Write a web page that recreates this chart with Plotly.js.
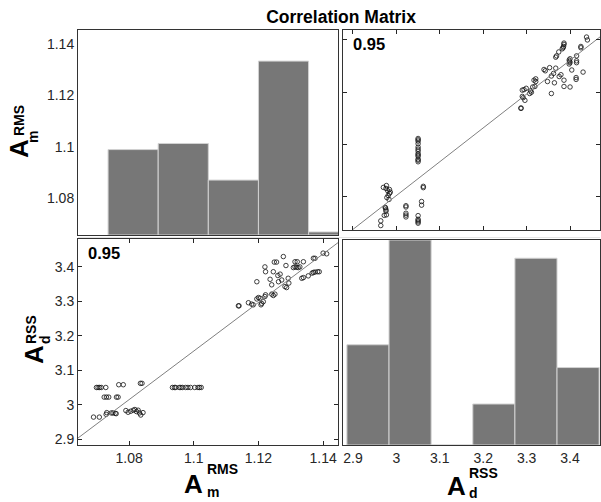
<!DOCTYPE html>
<html><head><meta charset="utf-8">
<script src="https://cdn.plot.ly/plotly-3.0.1.min.js"></script>
<style>html,body{margin:0;padding:0;background:#fff}#chart{width:601px;height:502px}</style>
</head><body><div id="chart"></div>
<script>
// ---- data ----
const amRMS = [
  1.0699,1.0704,1.0709,1.0714,1.0728,
  1.0768,1.0782,1.0835,1.0840,
  1.0934,1.0940,1.0944,1.0955,1.0960,1.0965,1.0975,1.0982,1.0990,1.1003,1.1013,1.1018,1.1023,
  1.0723,1.0730,1.0737,1.0761,1.0766,
  1.0690,1.0708,1.0729,1.0731,1.0745,1.0750,1.0757,1.0760,
  1.0790,1.0797,1.0805,1.0813,1.0818,1.0823,1.0828,1.0832,1.0836,1.0843,
  1.1138,1.1140,1.1169,1.1179,1.1184,1.1195,1.1200,1.1205,
  1.1208,1.1210,1.1215,1.1220,1.1222,1.1241,1.1246,1.1251,
  1.1195,1.1220,1.1222,1.1236,1.1241,1.1249,1.1256,1.1246,
  1.1260,1.1267,1.1262,1.1272,1.1277,1.1285,1.1292,1.1282,1.1287,1.1294,
  1.1308,1.1313,1.1318,1.1323,1.1328,1.1313,1.1320,1.1339,
  1.1334,1.1339,1.1354,1.1366,1.1370,1.1375,1.1383,1.1388,
  1.1370,1.1375,1.1400,1.1411
];
const adRSS = [
  3.050,3.050,3.050,3.050,3.050,
  3.058,3.058,3.062,3.062,
  3.050,3.050,3.050,3.050,3.050,3.050,3.050,3.050,3.050,3.050,3.050,3.050,3.050,
  3.022,3.022,3.022,3.022,3.022,
  2.964,2.964,2.972,2.977,2.976,2.976,2.975,2.974,
  2.983,2.978,2.981,2.984,2.986,2.980,2.984,2.976,2.970,2.977,
  3.287,3.287,3.296,3.292,3.290,3.307,3.311,3.309,
  3.290,3.294,3.299,3.314,3.319,3.321,3.317,3.321,
  3.357,3.400,3.386,3.364,3.348,3.414,3.414,3.386,
  3.375,3.379,3.357,3.362,3.430,3.404,3.367,3.343,3.340,3.353,
  3.398,3.400,3.399,3.398,3.400,3.415,3.415,3.415,
  3.367,3.369,3.374,3.382,3.384,3.385,3.386,3.386,
  3.425,3.425,3.440,3.438
];
const amHistEdges = [1.0735,1.0890,1.1045,1.1200,1.1355,1.1510];
const amHistCounts = [28,30,18,57,1];
const adHistEdges = [2.886,2.983,3.080,3.176,3.273,3.370,3.467];
const adHistCounts = [22,45,0,9,41,17];
const titleText = 'Correlation Matrix';
const corrLabel = '0.95';

// ---- helpers ----
const W = 601, H = 502;
const px = v => v / W, py = v => 1 - v / H;
function fit(x, y) {
  const n = x.length;
  const mx = x.reduce((a, b) => a + b, 0) / n, my = y.reduce((a, b) => a + b, 0) / n;
  let sxy = 0, sxx = 0, syy = 0;
  for (let i = 0; i < n; i++) { sxy += (x[i]-mx)*(y[i]-my); sxx += (x[i]-mx)**2; syy += (y[i]-my)**2; }
  const b = sxy / sxx;
  return { b, a: my - b * mx, r: sxy / Math.sqrt(sxx * syy) };
}
const centers = e => e.slice(0, -1).map((v, i) => (v + e[i + 1]) / 2);
const widths = e => e.slice(0, -1).map((v, i) => e[i + 1] - v);

const amRange = [1.0642, 1.1446];   // A_m as x (bottom-left)
const amRangeY = [1.0673, 1.1438];  // A_m as y (top-right)
const amRangeTL = [1.0656, 1.1455]; // A_m labels (top-left)
const adRangeX = [2.877, 3.469];    // A_d as x (right column)
const adRangeY = [2.883, 3.481];    // A_d as y (bottom-left)

const f1 = fit(amRMS, adRSS);   // A_d on A_m
const f2 = fit(adRSS, amRMS);   // A_m on A_d

const ink = '#262626';
const markerStyle = { symbol: 'circle-open', size: 4.5, color: '#111', line: { width: 0.8, color: '#111' } };
const barStyle = { color: '#777777', line: { color: '#d2d2d2', width: 1 } };

const traces = [
  { type: 'scatter', mode: 'markers', x: amRMS, y: adRSS, xaxis: 'x', yaxis: 'y', marker: markerStyle, hoverinfo: 'skip' },
  { type: 'scatter', mode: 'lines', x: amRange, y: amRange.map(v => f1.a + f1.b * v), xaxis: 'x', yaxis: 'y', line: { color: '#808080', width: 1 } },
  { type: 'scatter', mode: 'markers', x: adRSS, y: amRMS, xaxis: 'x2', yaxis: 'y2', marker: markerStyle },
  { type: 'scatter', mode: 'lines', x: adRangeX, y: adRangeX.map(v => f2.a + f2.b * v), xaxis: 'x2', yaxis: 'y2', line: { color: '#808080', width: 1 } },
  { type: 'scatter', mode: 'markers', x: [], y: [], xaxis: 'x3', yaxis: 'y3' },
  { type: 'bar', x: centers(amHistEdges), y: amHistCounts, width: widths(amHistEdges), xaxis: 'x3', yaxis: 'y5', marker: barStyle },
  { type: 'bar', x: centers(adHistEdges), y: adHistCounts, width: widths(adHistEdges), xaxis: 'x4', yaxis: 'y4', marker: barStyle }
];

const font = { family: 'Liberation Sans, Arial, sans-serif', size: 14, color: ink };
const frame = { showline: true, linecolor: '#333', linewidth: 1, mirror: true, showgrid: false, zeroline: false, fixedrange: true };
const dom = { BLx: [px(78), px(338)], BLy: [py(445), py(239)], TRx: [px(343), px(600)], TRy: [py(230), py(30)], TLy: [py(235), py(30)], BRy: [py(445), py(240)] };

const layout = {
  width: W, height: H, margin: { l: 0, r: 0, t: 0, b: 0 },
  paper_bgcolor: '#fff', plot_bgcolor: '#fff', showlegend: false, font: font,
  title: { text: '<b>' + titleText + '</b>', x: px(341), xanchor: 'center', y: py(17), yanchor: 'middle', font: { size: 17.5, color: '#000', family: font.family } },
  xaxis: Object.assign({}, frame, { domain: dom.BLx, anchor: 'y', range: amRange, dtick: 0.02, tick0: 1.08, ticks: 'inside', ticklen: 4, tickcolor: ink, mirror: 'ticks', tickfont: { size: 14, color: ink } }),
  yaxis: Object.assign({}, frame, { domain: dom.BLy, anchor: 'x', range: adRangeY, dtick: 0.1, tick0: 2.9, ticks: 'inside', ticklen: 4, tickcolor: ink, mirror: 'ticks', tickfont: { size: 14, color: ink } }),
  xaxis2: Object.assign({}, frame, { domain: dom.TRx, anchor: 'y2', range: adRangeX, dtick: 0.1, tick0: 2.9, ticks: 'inside', ticklen: 4, tickcolor: ink, mirror: 'ticks', showticklabels: false }),
  yaxis2: Object.assign({}, frame, { domain: dom.TRy, anchor: 'x2', range: amRangeY, dtick: 0.02, tick0: 1.08, ticks: 'inside', ticklen: 4, tickcolor: ink, mirror: 'ticks', showticklabels: false }),
  xaxis3: Object.assign({}, frame, { domain: dom.BLx, anchor: 'y3', range: amRange, ticks: '', showticklabels: false }),
  yaxis3: Object.assign({}, frame, { domain: dom.TLy, anchor: 'x3', range: amRangeTL, dtick: 0.02, tick0: 1.08, ticks: '', tickfont: { size: 14, color: ink } }),
  yaxis5: { overlaying: 'y3', anchor: 'x3', range: [0, 67.2], visible: false, fixedrange: true },
  xaxis4: Object.assign({}, frame, { domain: dom.TRx, anchor: 'y4', range: adRangeX, dtick: 0.1, tick0: 2.9, ticks: '', tickfont: { size: 14, color: ink } }),
  yaxis4: Object.assign({}, frame, { domain: dom.BRy, anchor: 'x4', range: [0, 45], ticks: '', showticklabels: false }),
  shapes: [
    { type: 'line', xref: 'paper', yref: 'paper', x0: px(78), x1: px(600), y0: py(237.5), y1: py(237.5), line: { color: '#e4e4e4', width: 1 } }
  ],
  annotations: []
};

const ann = layout.annotations;
const bold = t => '<b>' + t + '</b>';
ann.push({ xref: 'x domain', yref: 'y domain', x: 0.03, y: 0.985, xanchor: 'left', yanchor: 'top', text: bold(corrLabel), showarrow: false, font: { size: 16.5, color: '#000' } });
ann.push({ xref: 'x2 domain', yref: 'y2 domain', x: 0.03, y: 0.985, xanchor: 'left', yanchor: 'top', text: bold(corrLabel), showarrow: false, font: { size: 16.5, color: '#000' } });

const BIG = 26, SMALL = 14;
function t(text, x, y, size, opts) {
  ann.push(Object.assign({ xref: 'paper', yref: 'paper', x: px(x), y: py(y), xanchor: 'center', yanchor: 'middle', text: bold(text), showarrow: false, font: { size: size, color: '#000' } }, opts || {}));
}
// horizontal labels: A with stacked superscript / subscript
t('A', 193, 484, BIG);
t('RMS', 205, 469, SMALL, { xanchor: 'left' });
t('m', 205, 492, SMALL, { xanchor: 'left' });
t('A', 456, 486, BIG);
t('RSS', 467, 473, SMALL, { xanchor: 'left' });
t('d', 467, 493, SMALL, { xanchor: 'left' });
// rotated labels
t('A', 19, 149, BIG, { textangle: -90 });
t('RMS', 19, 121, SMALL, { textangle: -90 });
t('m', 33, 137, SMALL, { textangle: -90 });
t('A', 34, 355, BIG, { textangle: -90 });
t('RSS', 31, 330, SMALL, { textangle: -90 });
t('d', 45, 340, SMALL, { textangle: -90 });

Plotly.newPlot('chart', traces, layout, { staticPlot: true, displayModeBar: false });
</script></body></html>
